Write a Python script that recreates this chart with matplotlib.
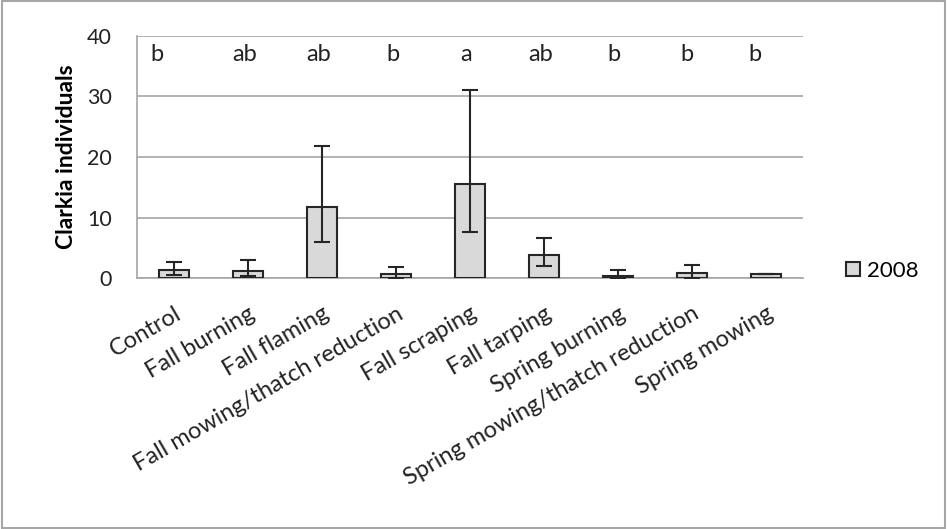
import matplotlib.pyplot as plt
import numpy as np

plt.rcParams['font.family'] = ['Lato', 'DejaVu Sans']

treatments = ['Control', 'Fall burning', 'Fall flaming', 'Fall mowing/thatch reduction',
              'Fall scraping', 'Fall tarping', 'Spring burning',
              'Spring mowing/thatch reduction', 'Spring mowing']
means = [1.3, 1.2, 11.7, 0.7, 15.5, 3.8, 0.3, 0.8, 0.7]
upper = [2.6, 3.0, 21.9, 1.9, 31.0, 6.6, 1.3, 2.1, 0.7]
lower = [0.5, 0.3, 6.0, 0.0, 7.6, 2.0, 0.0, 0.0, 0.7]
letters = ['b', 'ab', 'ab', 'b', 'a', 'ab', 'b', 'b', 'b']
# letters were placed by hand in the original, slightly left of each bar
letter_shift = [-0.23, -0.04, -0.04, -0.04, -0.05, -0.05, -0.05, -0.07, -0.15]

means = np.array(means)
err = [means - np.array(lower), np.array(upper) - means]
x = np.arange(len(treatments))

fig = plt.figure(figsize=(9.47, 5.29), dpi=100)
ax = fig.add_axes([137 / 947, 1 - 278 / 529, 666 / 947, 242 / 529])

ax.bar(x, means, width=0.4, color='#d9d9d9', edgecolor='#262626', linewidth=1.5,
       label='2008', zorder=3)
ax.errorbar(x, means, yerr=err, fmt='none', ecolor='#262626', elinewidth=1.5,
            capsize=6, capthick=1.5, zorder=4)

for xi, s, d in zip(x, letters, letter_shift):
    ax.text(xi + d, 36.9, s, ha='center', va='center', fontsize=17, color='#222222')

ax.set_xlim(-0.5, len(treatments) - 0.5)
ax.set_ylim(0, 40)
ax.set_yticks([0, 10, 20, 30, 40])
ax.yaxis.grid(True, color='#a6a6a6', linewidth=1.2, zorder=0)
ax.set_axisbelow(True)
for s in ['top', 'right']:
    ax.spines[s].set_visible(False)
for s in ['left', 'bottom']:
    ax.spines[s].set_color('#a6a6a6')
    ax.spines[s].set_linewidth(1.2)
ax.tick_params(axis='both', length=0, colors='#222222')
ax.tick_params(axis='y', pad=18, labelsize=15.5)
ax.tick_params(axis='x', pad=18, labelsize=17)
ax.set_xticks(x)
ax.set_xticklabels(treatments, rotation=30, ha='right', rotation_mode='anchor')
ax.set_ylabel('Clarkia individuals', fontsize=16.5, fontweight='bold')
ax.yaxis.set_label_coords(-0.09, 0.5)

leg = ax.legend(loc='center left', bbox_to_anchor=(1.035, 0.03), frameon=False,
                fontsize=16, handlelength=0.6, handleheight=0.6, handletextpad=0.35)

fig.patches.append(plt.Rectangle((0.002, 0.002), 0.996, 0.996, transform=fig.transFigure,
                                 fill=False, edgecolor='#a6a6a6', linewidth=1.5))

fig.savefig('out.png', dpi=100)
